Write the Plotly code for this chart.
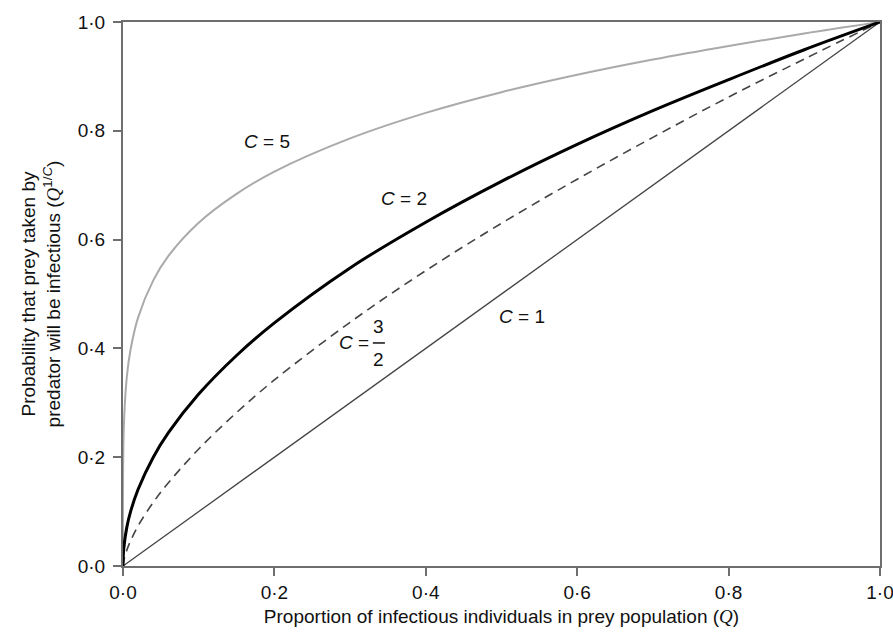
import plotly.graph_objects as go

# Values
q_vals = [0, 0.001, 0.005, 0.01, 0.02, 0.04, 0.06, 0.1, 0.15, 0.2, 0.3, 0.4, 0.5, 0.6, 0.7, 0.8, 0.9, 1.0]
c5_vals = [0, 0.251, 0.347, 0.398, 0.457, 0.525, 0.570, 0.631, 0.684, 0.725, 0.786, 0.833, 0.871, 0.903, 0.931, 0.956, 0.979, 1.0]
c2_vals = [0, 0.032, 0.071, 0.100, 0.141, 0.200, 0.245, 0.316, 0.387, 0.447, 0.548, 0.632, 0.707, 0.775, 0.837, 0.894, 0.949, 1.0]
c15_vals = [0, 0.010, 0.029, 0.046, 0.074, 0.117, 0.153, 0.215, 0.282, 0.342, 0.448, 0.543, 0.630, 0.711, 0.788, 0.862, 0.932, 1.0]
c1_q = [0, 1.0]
c1_vals = [0, 1.0]

tick_vals = [0, 0.2, 0.4, 0.6, 0.8, 1.0]
tick_text = ["0·0", "0·2", "0·4", "0·6", "0·8", "1·0"]

FONT = "Liberation Sans, Arial, sans-serif"
SERIF = "Liberation Serif, Times New Roman, serif"
AX = "#6e6e6e"
FS = 19

fig = go.Figure()
fig.add_trace(go.Scatter(x=c1_q, y=c1_vals, mode="lines",
                         line=dict(color="#444444", width=1.3), showlegend=False))
fig.add_trace(go.Scatter(x=q_vals, y=c15_vals, mode="lines", line_shape="spline",
                         line=dict(color="#444444", width=1.6, dash="9px,6px"), showlegend=False))
fig.add_trace(go.Scatter(x=q_vals, y=c5_vals, mode="lines", line_shape="spline",
                         line=dict(color="#aaaaaa", width=2), showlegend=False))
fig.add_trace(go.Scatter(x=q_vals, y=c2_vals, mode="lines", line_shape="spline",
                         line=dict(color="#000000", width=3), showlegend=False))

lab_font = dict(family=FONT, size=FS, color="#111111")
fig.add_annotation(x=0.19, y=0.78, text="<i>C</i> = 5", showarrow=False, font=lab_font)
fig.add_annotation(x=0.371, y=0.676, text="<i>C</i> = 2", showarrow=False, font=lab_font)
fig.add_annotation(x=0.527, y=0.458, text="<i>C</i> = 1", showarrow=False, font=lab_font)
fig.add_annotation(x=0.305, y=0.41, text="<i>C</i> =", showarrow=False, font=lab_font)
fig.add_annotation(x=0.338, y=0.44, text="3", showarrow=False, font=lab_font)
fig.add_annotation(x=0.338, y=0.38, text="2", showarrow=False, font=lab_font)
fig.add_shape(type="line", x0=0.330, x1=0.346, y0=0.41, y1=0.41,
              line=dict(color="#111111", width=1.5))

axis_common = dict(range=[0, 1], tickvals=tick_vals, ticktext=tick_text,
                   showgrid=False, zeroline=False, showline=True, mirror=True,
                   linecolor=AX, linewidth=2, ticks="outside", ticklen=8,
                   tickwidth=2, tickcolor=AX, ticklabeloverflow="allow",
                   automargin=False,
                   tickfont=dict(family=FONT, size=FS, color="#111111"))

fig.update_xaxes(**axis_common,
                 title=dict(text="Proportion of infectious individuals in prey population (<span style='font-family:" + SERIF + ";font-style:italic'>Q</span>)",
                            font=dict(family=FONT, size=FS, color="#111111"), standoff=8))
fig.update_yaxes(**axis_common, ticklabelstandoff=4,
                 title=dict(text="Probability that prey taken by<br>predator will be infectious (<span style='font-family:" + SERIF + ";font-style:italic'>Q</span><sup>1/<i>C</i></sup>)",
                            font=dict(family=FONT, size=FS, color="#111111"), standoff=12))

fig.update_layout(template="none", width=893, height=635, margin=dict(l=123, r=13, t=22, b=69),
                  plot_bgcolor="white", paper_bgcolor="white")
fig.write_html("out.html", config={"responsive": False},
               post_script="document.body.style.margin='0';document.body.style.overflow='hidden';document.documentElement.style.overflow='hidden';")
